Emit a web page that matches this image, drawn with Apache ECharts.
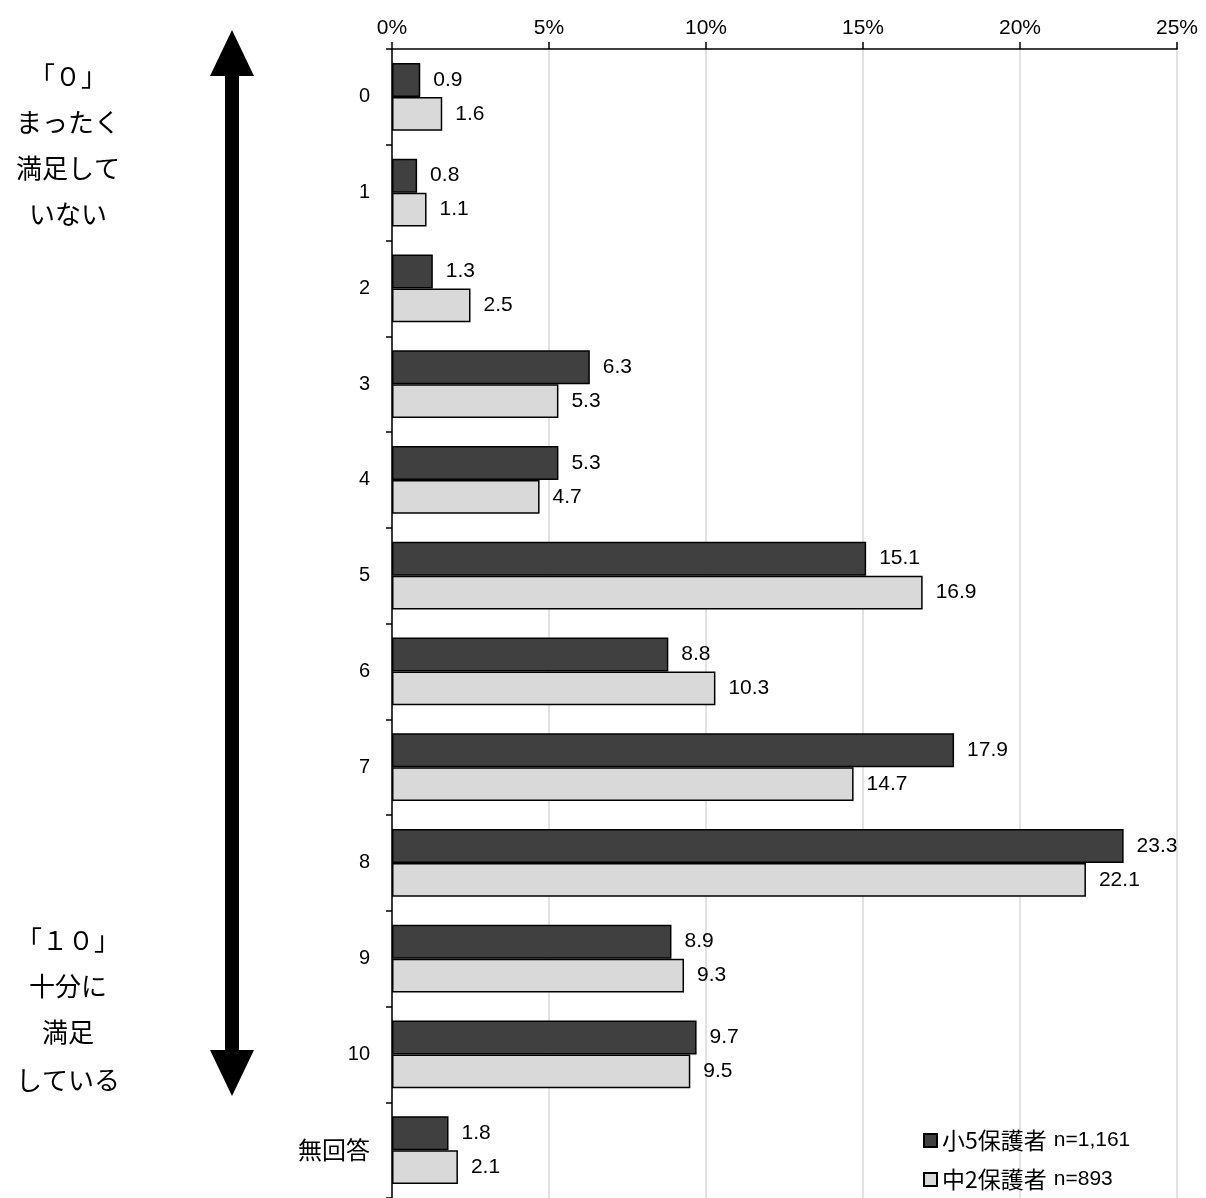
<!DOCTYPE html>
<html><head><meta charset="utf-8">
<script src="https://cdn.jsdelivr.net/npm/echarts@6/dist/echarts.min.js"></script>
<style>html,body{margin:0;padding:0;background:#fff}#c{width:1206px;height:1198px}</style>
</head><body><div id="c"></div>
<script>
const categories = ['0','1','2','3','4','5','6','7','8','9','10','無回答'];
const seriesNames = ['小5保護者','中2保護者'];
const legendN = ['n=1,161','n=893'];
const grade5 = [0.9,0.8,1.3,6.3,5.3,15.1,8.8,17.9,23.3,8.9,9.7,1.8];
const grade8 = [1.6,1.1,2.5,5.3,4.7,16.9,10.3,14.7,22.1,9.3,9.5,2.1];
const xTicks = [0,5,10,15,20,25];
const topLines = ['「０」','まったく','満足して','いない'];
const bottomLines = ['「１０」','十分に','満足','している'];

const chart = echarts.init(document.getElementById('c'));
const jp = '"Noto Sans CJK JP", sans-serif';
const num = '"Liberation Sans", Arial, sans-serif';
const narrow = '"Liberation Sans Narrow", "Liberation Sans", sans-serif';

function sideText(lines, ys){
  return lines.map((t,i)=>({type:'text', x: 68, y: ys[i],
    style:{text:t, font:'26px '+jp, fill:'#000', textAlign:'center', textVerticalAlign:'middle'}}));
}
const lab = {show:true, position:'right', distance:13, fontFamily:num, fontSize:21, color:'#000', formatter: p=>p.value.toFixed(1)};
chart.setOption({
  animation:false,
  grid:{left:392, top:49, width:785, height:1150, containLabel:false},
  xAxis:{type:'value', position:'top', min:xTicks[0], max:xTicks[xTicks.length-1], interval:5,
    axisLine:{show:true, lineStyle:{color:'#000', width:1.5}},
    axisTick:{show:true, length:7, lineStyle:{color:'#000', width:1.5}},
    axisLabel:{formatter:'{value}%', fontFamily:narrow, fontSize:21, color:'#000', margin:10},
    splitLine:{show:true, lineStyle:{color:'#d9d9d9', width:1.5}}},
  yAxis:{type:'category', data:categories, inverse:true,
    axisLine:{show:true, lineStyle:{color:'#000', width:1.5}},
    axisTick:{show:true, length:6, lineStyle:{color:'#000', width:1.5}},
    axisLabel:{color:'#000', margin:22, fontSize:20, fontFamily:num,
      formatter: v => /^\d+$/.test(v) ? '{n|'+v+'}' : '{j|'+v+'}',
      rich:{n:{fontFamily:num, fontSize:20, color:'#000'}, j:{fontFamily:jp, fontSize:24, color:'#000'}}}},
  legend:{orient:'vertical', left:918, top:1124, itemWidth:13, itemHeight:13, itemGap:16, icon:'rect',
    data:seriesNames,
    formatter: n => '{a|'+n+'}{b|'+legendN[seriesNames.indexOf(n)]+'}',
    textStyle:{color:'#000', rich:{a:{fontFamily:jp, fontSize:23, color:'#000'}, b:{fontFamily:num, fontSize:21, color:'#000', padding:[0,0,0,7]}}}},
  series:[
    {name:seriesNames[0], type:'bar', data:grade5, barGap:'0%', barCategoryGap:'29%',
     itemStyle:{color:'#404040', borderColor:'#000', borderWidth:1.5}, label:lab},
    {name:seriesNames[1], type:'bar', data:grade8, barGap:'0%', barCategoryGap:'29%',
     itemStyle:{color:'#d9d9d9', borderColor:'#000', borderWidth:1.5}, label:lab}
  ],
  graphic:[
    {type:'rect', shape:{x:225, y:72, width:14, height:980}, style:{fill:'#000'}},
    {type:'polygon', shape:{points:[[232,30],[210,76],[254,76]]}, style:{fill:'#000'}},
    {type:'polygon', shape:{points:[[232,1096],[210,1050],[254,1050]]}, style:{fill:'#000'}},
    ...sideText(topLines, [76,122,168,214]),
    ...sideText(bottomLines, [940,986,1032,1080])
  ]
});
</script></body></html>
